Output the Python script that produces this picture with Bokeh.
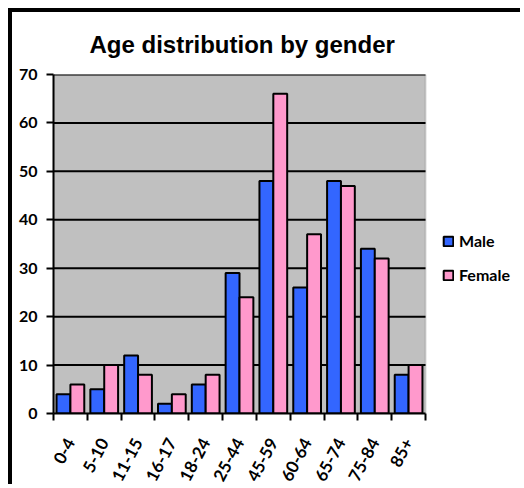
import math
from bokeh.plotting import figure
from bokeh.models import (Range1d, LinearAxis, FixedTicker, Legend, LegendItem,
                          ColumnDataSource, BoxAnnotation)
from bokeh.transform import dodge
from bokeh.embed import file_html
from bokeh.resources import INLINE

categories = ["0-4", "5-10", "11-15", "16-17", "18-24", "25-44", "45-59",
              "60-64", "65-74", "75-84", "85+"]
male = [4, 5, 12, 2, 6, 29, 48, 26, 48, 34, 8]
female = [6, 10, 8, 4, 8, 24, 66, 37, 47, 32, 10]
y_ticks = [0, 10, 20, 30, 40, 50, 60, 70]

LABEL_FONT = "Lato"
n = len(categories)
centers = [i + 0.5 for i in range(n)]
y_max = y_ticks[-1]

# layout (pixels): gray plot area 372px wide inside a 471px frame (legend sits right of it)
PLOT_PX = 372
FRAME_PX = 471

src = ColumnDataSource(dict(x=centers, cat=categories, male=male, female=female))
grid_src = ColumnDataSource(dict(y=y_ticks[1:], x0=[0] * (len(y_ticks) - 1),
                                 x1=[n] * (len(y_ticks) - 1)))

p = figure(x_range=Range1d(0, n * FRAME_PX / PLOT_PX), y_range=Range1d(0, y_max),
           width=512, height=476, output_backend="svg", toolbar_location=None,
           title="Age distribution by gender", x_axis_location=None,
           min_border_left=41, min_border_right=0, min_border_top=55, min_border_bottom=74,
           background_fill_color="white", border_fill_color="white",
           styles={"border-left": "4px solid black", "border-top": "4px solid black",
                   "margin-left": "8px", "margin-top": "8px"})
p.outline_line_color = None

p.title.align = "left"
p.title.offset = 36
p.title.text_font = "Liberation Sans"
p.title.text_font_size = "24px"
p.title.text_font_style = "bold"
p.title.text_color = "black"
p.title.standoff = 33

# gray plot area
p.add_layout(BoxAnnotation(left=0, right=n, bottom=0, top=y_max, fill_color="#C0C0C0",
                           fill_alpha=1, line_color="#808080", line_width=2, level="underlay"))

# y axis
yax = p.yaxis[0]
yax.ticker = FixedTicker(ticks=y_ticks)
yax.axis_line_color = "black"
yax.axis_line_width = 2
yax.major_tick_line_color = "black"
yax.major_tick_line_width = 2
yax.major_tick_out = 7
yax.major_tick_in = 0
yax.minor_tick_line_color = None
yax.major_label_text_font = LABEL_FONT
yax.major_label_text_font_size = "16px"
yax.major_label_text_font_style = "bold"
yax.major_label_text_color = "black"
yax.major_label_standoff = 9

p.xgrid.grid_line_color = None
p.ygrid.grid_line_color = None

# horizontal gridlines limited to the plot area
p.segment(x0="x0", x1="x1", y0="y", y1="y", source=grid_src, line_color="black", line_width=2)

# boundary ticks axis
tick_axis = LinearAxis(ticker=FixedTicker(ticks=list(range(n + 1))), bounds=(0, n))
tick_axis.axis_line_color = "black"
tick_axis.axis_line_width = 2
tick_axis.major_tick_line_color = "black"
tick_axis.major_tick_line_width = 2
tick_axis.major_tick_out = 7
tick_axis.major_tick_in = 0
tick_axis.minor_tick_line_color = None
tick_axis.major_label_text_color = None
tick_axis.major_label_text_font_size = "1px"
tick_axis.major_label_standoff = 0
p.add_layout(tick_axis, "below")

# category label axis
cat_axis = LinearAxis(ticker=FixedTicker(ticks=centers),
                      major_label_overrides={c: lab for c, lab in zip(centers, categories)})
cat_axis.axis_line_color = None
cat_axis.major_tick_line_color = None
cat_axis.minor_tick_line_color = None
cat_axis.major_label_orientation = math.radians(62)
cat_axis.major_label_text_font = LABEL_FONT
cat_axis.major_label_text_font_size = "17px"
cat_axis.major_label_text_font_style = "bold"
cat_axis.major_label_text_color = "black"
cat_axis.major_label_standoff = 13
p.add_layout(cat_axis, "below")

r_m = p.vbar(x=dodge("x", -0.205), top="male", width=0.41, source=src,
             fill_color="#3366FF", line_color="black", line_width=2)
r_f = p.vbar(x=dodge("x", 0.205), top="female", width=0.41, source=src,
             fill_color="#FF99CC", line_color="black", line_width=2)

legend = Legend(items=[LegendItem(label="Male", renderers=[r_m]),
                       LegendItem(label="Female", renderers=[r_f])],
                location=(389, 129))
legend.border_line_color = None
legend.background_fill_alpha = 0
legend.label_text_font = LABEL_FONT
legend.label_text_font_size = "16px"
legend.label_text_font_style = "bold"
legend.label_text_color = "black"
legend.glyph_width = 12
legend.glyph_height = 12
legend.label_height = 12
legend.spacing = 15
legend.label_standoff = 5
legend.padding = 0
legend.margin = 0
p.add_layout(legend, "center")

open("out.html", "w").write(file_html(p, INLINE))
